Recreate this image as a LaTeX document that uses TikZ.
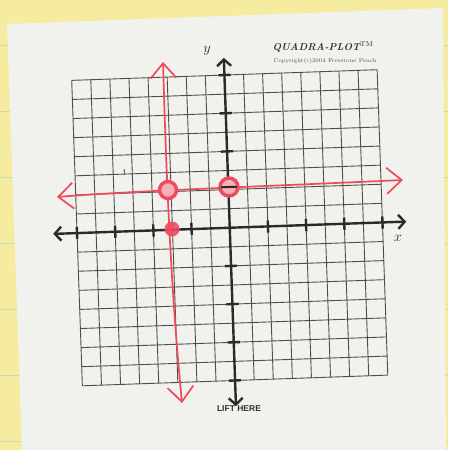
\documentclass[tikz,border=0pt]{standalone}
\usepackage{fontspec}
\newfontfamily\liftfont{Liberation Sans}
\usetikzlibrary{arrows.meta}
\definecolor{padyellow}{HTML}{F6ECA0}
\definecolor{padline}{HTML}{C6DDB4}
\definecolor{notewhite}{HTML}{F1F1ED}
\definecolor{gridgray}{HTML}{4E4E4E}
\definecolor{axisblack}{HTML}{2A2A2A}
\definecolor{penred}{HTML}{EE4A5E}
\definecolor{printgray}{HTML}{333333}
\begin{document}
\begin{tikzpicture}[x=1pt,y=-1pt,
  gridline/.style={gridgray, line width=0.9pt},
  axisline/.style={axisblack, line width=2.4pt,
    {Straight Barb[length=6.5pt,width=14pt]}-{Straight Barb[length=6.5pt,width=14pt]}},
  tickmark/.style={axisblack, line width=2.4pt},
  redpen/.style={penred, line width=1.7pt, line cap=round,
    {Straight Barb[length=15pt,width=26pt]}-{Straight Barb[length=15pt,width=26pt]}},
  redring/.style={circle, draw=penred, fill=penred!45, line width=3.4pt, inner sep=0pt},
  reddot/.style={circle, fill=penred, fill opacity=0.9, inner sep=0pt},
  padrule/.style={padline, line width=1pt}]
\useasboundingbox (0,0) rectangle (448,450);
% yellow pad
\fill[padyellow] (0,0) rectangle (448,450);
\foreach \yy in {45,111,177,243,309,375,441} {
  \draw[padrule] (0,\yy) -- (448,\yy);
}
% sticky note
\fill[notewhite] (7,24) -- (443,8) -- (446,450) -- (22,450) -- cycle;
% grid and axes
\begin{scope}[shift={(229.75,227.75)}, rotate=2, x=19.1pt, y=-19.1pt]
  \foreach \i in {-8,...,8} {
    \draw[gridline] (\i,-8) -- (\i,8);
    \draw[gridline] (-8,\i) -- (8,\i);
  }
  \coordinate (xl) at (-9.25,0);
  \coordinate (xr) at (9.25,0);
  \coordinate (yt) at (0,9.35);
  \coordinate (yb) at (0,-8.9);
  \draw[axisline] (xl) -- (xr);
  \draw[axisline] (yb) -- (yt);
  \foreach \t in {-8,-6,-4,-2,2,4,6,8} {
    \draw[tickmark] (\t,-0.32) -- (\t,0.32);
    \draw[tickmark] (-0.32,\t) -- (0.32,\t);
  }
\end{scope}
% axis labels
\node[text=axisblack, font=\Large] (ylab) at (207,51) {$y$};
\node[text=axisblack, font=\Large] (xlab) at (398,238) {$x$};
% printed texts
\node[text=printgray, font=\fontsize{10}{11}\selectfont\bfseries\itshape, inner sep=0pt] (brand) at (323,47)
  {QUADRA-PLOT\textsuperscript{\mdseries\upshape TM}};
\node[text=gridgray, font=\fontsize{5.6}{6}\selectfont, inner sep=0pt] (copy) at (325,61)
  {Copyright(c)2004 Freestone Peach};
\node[text=printgray, font=\liftfont\bfseries\fontsize{8.5}{9}\selectfont, inner sep=0pt] (lift) at (239,409) {LIFT HERE};
% pencil mark
\coordinate (m1) at (124,169);
\coordinate (m2) at (125,175);
\draw[gray!80!black, line width=1pt] (m1) -- (m2);
% red pen lines
\coordinate (vt) at (163,62);
\coordinate (vb) at (182,403);
\coordinate (hl) at (57,197);
\coordinate (hr) at (403,180);
\draw[redpen] (vt) .. controls (167,200) and (172,300) .. (vb);
\draw[redpen] (hl) .. controls (130,191) and (250,187) .. (hr);
% red marks
\node[redring, minimum size=17pt] (p1) at (168,190) {};
\node[redring, minimum size=18pt] (p2) at (229,187) {};
\draw[axisblack, line width=2pt] (221,187.3) -- (237,186.7);
\node[reddot, minimum size=15pt] (p3) at (172,229) {};
\end{tikzpicture}
\end{document}
